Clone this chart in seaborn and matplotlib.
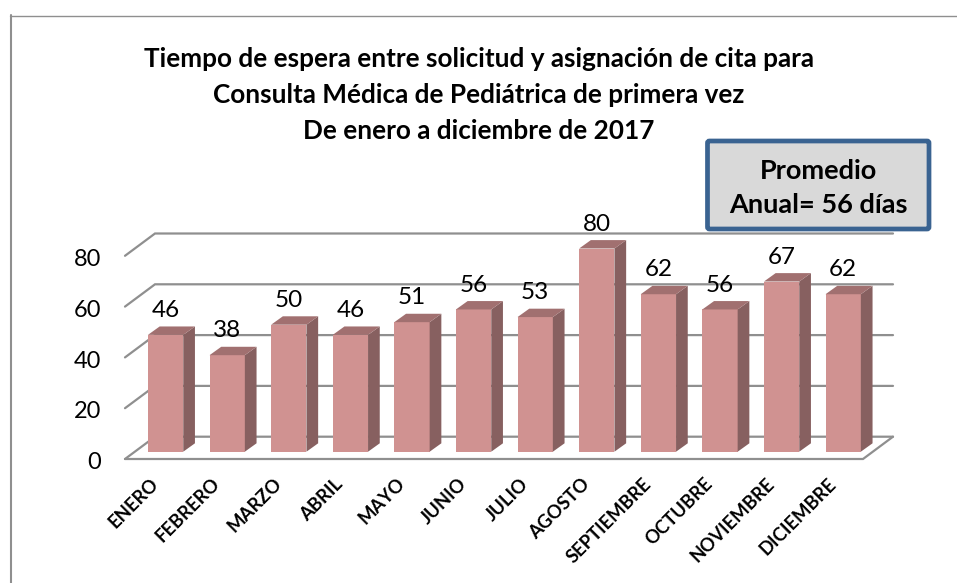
import matplotlib
matplotlib.use('Agg')
import matplotlib.pyplot as plt
import matplotlib.transforms as mtrans
from matplotlib.lines import Line2D
from matplotlib.patches import FancyBboxPatch, Polygon
import seaborn as sns

sns.set_theme(style="white")
plt.rcParams['font.family'] = ['Lato', 'DejaVu Sans']

# datos
meses = ['ENERO', 'FEBRERO', 'MARZO', 'ABRIL', 'MAYO', 'JUNIO', 'JULIO', 'AGOSTO',
         'SEPTIEMBRE', 'OCTUBRE', 'NOVIEMBRE', 'DICIEMBRE']
dias = [46, 38, 50, 46, 51, 56, 53, 80, 62, 56, 67, 62]
marcas_y = [0, 20, 40, 60, 80]

titulo = ('Tiempo de espera entre solicitud y asignación de cita para\n'
          'Consulta Médica de Pediátrica de primera vez\n'
          'De enero a diciembre de 2017')
promedio = 'Promedio\nAnual= 56 días'

W, H = 957, 583
GRIS = '#8f8f8f'
FRENTE, LADO, TAPA = '#d09291', '#876060', '#a17070'

fig = plt.figure(figsize=(W / 100, H / 100), dpi=100)

# ejes colocados en pixeles: cada categoria mide 61.6 px, cada unidad 2.54 px
paso, escala = 61.6, 2.54
izq, base = 134.8, 451.7
ax = fig.add_axes([izq / W, (H - base) / H, 12 * paso / W, 80 * escala / H])

sns.barplot(x=meses, y=dias, color=FRENTE, saturation=1, width=0.573, ax=ax, zorder=3, linewidth=0)
ax.set_xlim(-0.5, 11.5)
ax.set_ylim(0, 80)
ax.set_facecolor('none')
sns.despine(ax=ax, left=True, bottom=True)
ax.set_xlabel('')
ax.set_ylabel('')


def px_x(px):
    return -0.5 + (px - izq) / paso


def px_dy(px):
    return px / escala


# profundidad del efecto 3D
fondo_x, fondo_y = 11.7 / paso, px_dy(8.4)

# paredes y piso
atras, adelante = px_dy(15), px_dy(-7.3)
for m in marcas_y:
    ax.plot([px_x(125), px_x(155), px_x(893)], [m + adelante, m + atras, m + atras],
            color=GRIS, lw=1.6, clip_on=False, zorder=1, solid_joinstyle='miter')
ax.plot([px_x(125), px_x(863), px_x(893)], [adelante, adelante, atras],
        color=GRIS, lw=1.6, clip_on=False, zorder=1, solid_joinstyle='miter')

# caras laterales y tapas de cada barra
for barra in list(ax.patches):
    x0, x1, alto = barra.get_x(), barra.get_x() + barra.get_width(), barra.get_height()
    ax.add_patch(Polygon([(x1, 0), (x1 + fondo_x, fondo_y), (x1 + fondo_x, alto + fondo_y), (x1, alto)],
                         facecolor=LADO, edgecolor='none', clip_on=False, zorder=3))
    ax.add_patch(Polygon([(x0, alto), (x0 + fondo_x, alto + fondo_y), (x1 + fondo_x, alto + fondo_y), (x1, alto)],
                         facecolor=TAPA, edgecolor='none', clip_on=False, zorder=3))

for cont in ax.containers:
    ax.bar_label(cont, padding=10, fontsize=17.5, color='black', zorder=5)

# marcas de los ejes
ax.set_yticks(marcas_y)
ax.tick_params(axis='y', length=0, pad=24, labelsize=17, labelcolor='black')
ax.tick_params(axis='x', length=0, pad=21)
bajar = mtrans.ScaledTranslation(0, -9 / 100, fig.dpi_scale_trans)
for et in ax.get_yticklabels():
    et.set_transform(et.get_transform() + bajar)
ax.set_xticks(range(len(meses)))
ax.set_xticklabels(meses, rotation=45, ha='right', rotation_mode='anchor', va='center',
                   fontsize=13.3, fontweight='bold', color='black')
correr = mtrans.ScaledTranslation(-10 / 100, 0, fig.dpi_scale_trans)
for et in ax.get_xticklabels():
    et.set_transform(et.get_transform() + correr)

fig.text(479 / W, 1 - 95 / H, titulo, ha='center', va='center', fontsize=18.8,
         fontweight='bold', color='black', linespacing=1.6)

# cuadro del promedio
fig.add_artist(FancyBboxPatch((707.5, H - 229), 221.5, 88, boxstyle='round,pad=0,rounding_size=2',
                              transform=mtrans.IdentityTransform(),
                              facecolor='#d9d9d9', edgecolor='#3a6391', lw=3.4))
fig.text(818 / W, 1 - 188 / H, promedio, ha='center', va='center', fontsize=19.5,
         fontweight='bold', color='black', linespacing=1.5)

# marco: solo arriba y a la izquierda
fig.add_artist(Line2D([10 / W, 1], [1 - 15.7 / H, 1 - 15.7 / H], color=GRIS, lw=1, transform=fig.transFigure))
fig.add_artist(Line2D([11 / W, 11 / W], [0, 1 - 15 / H], color=GRIS, lw=1.5, transform=fig.transFigure))

fig.savefig('out.png', dpi=100)
